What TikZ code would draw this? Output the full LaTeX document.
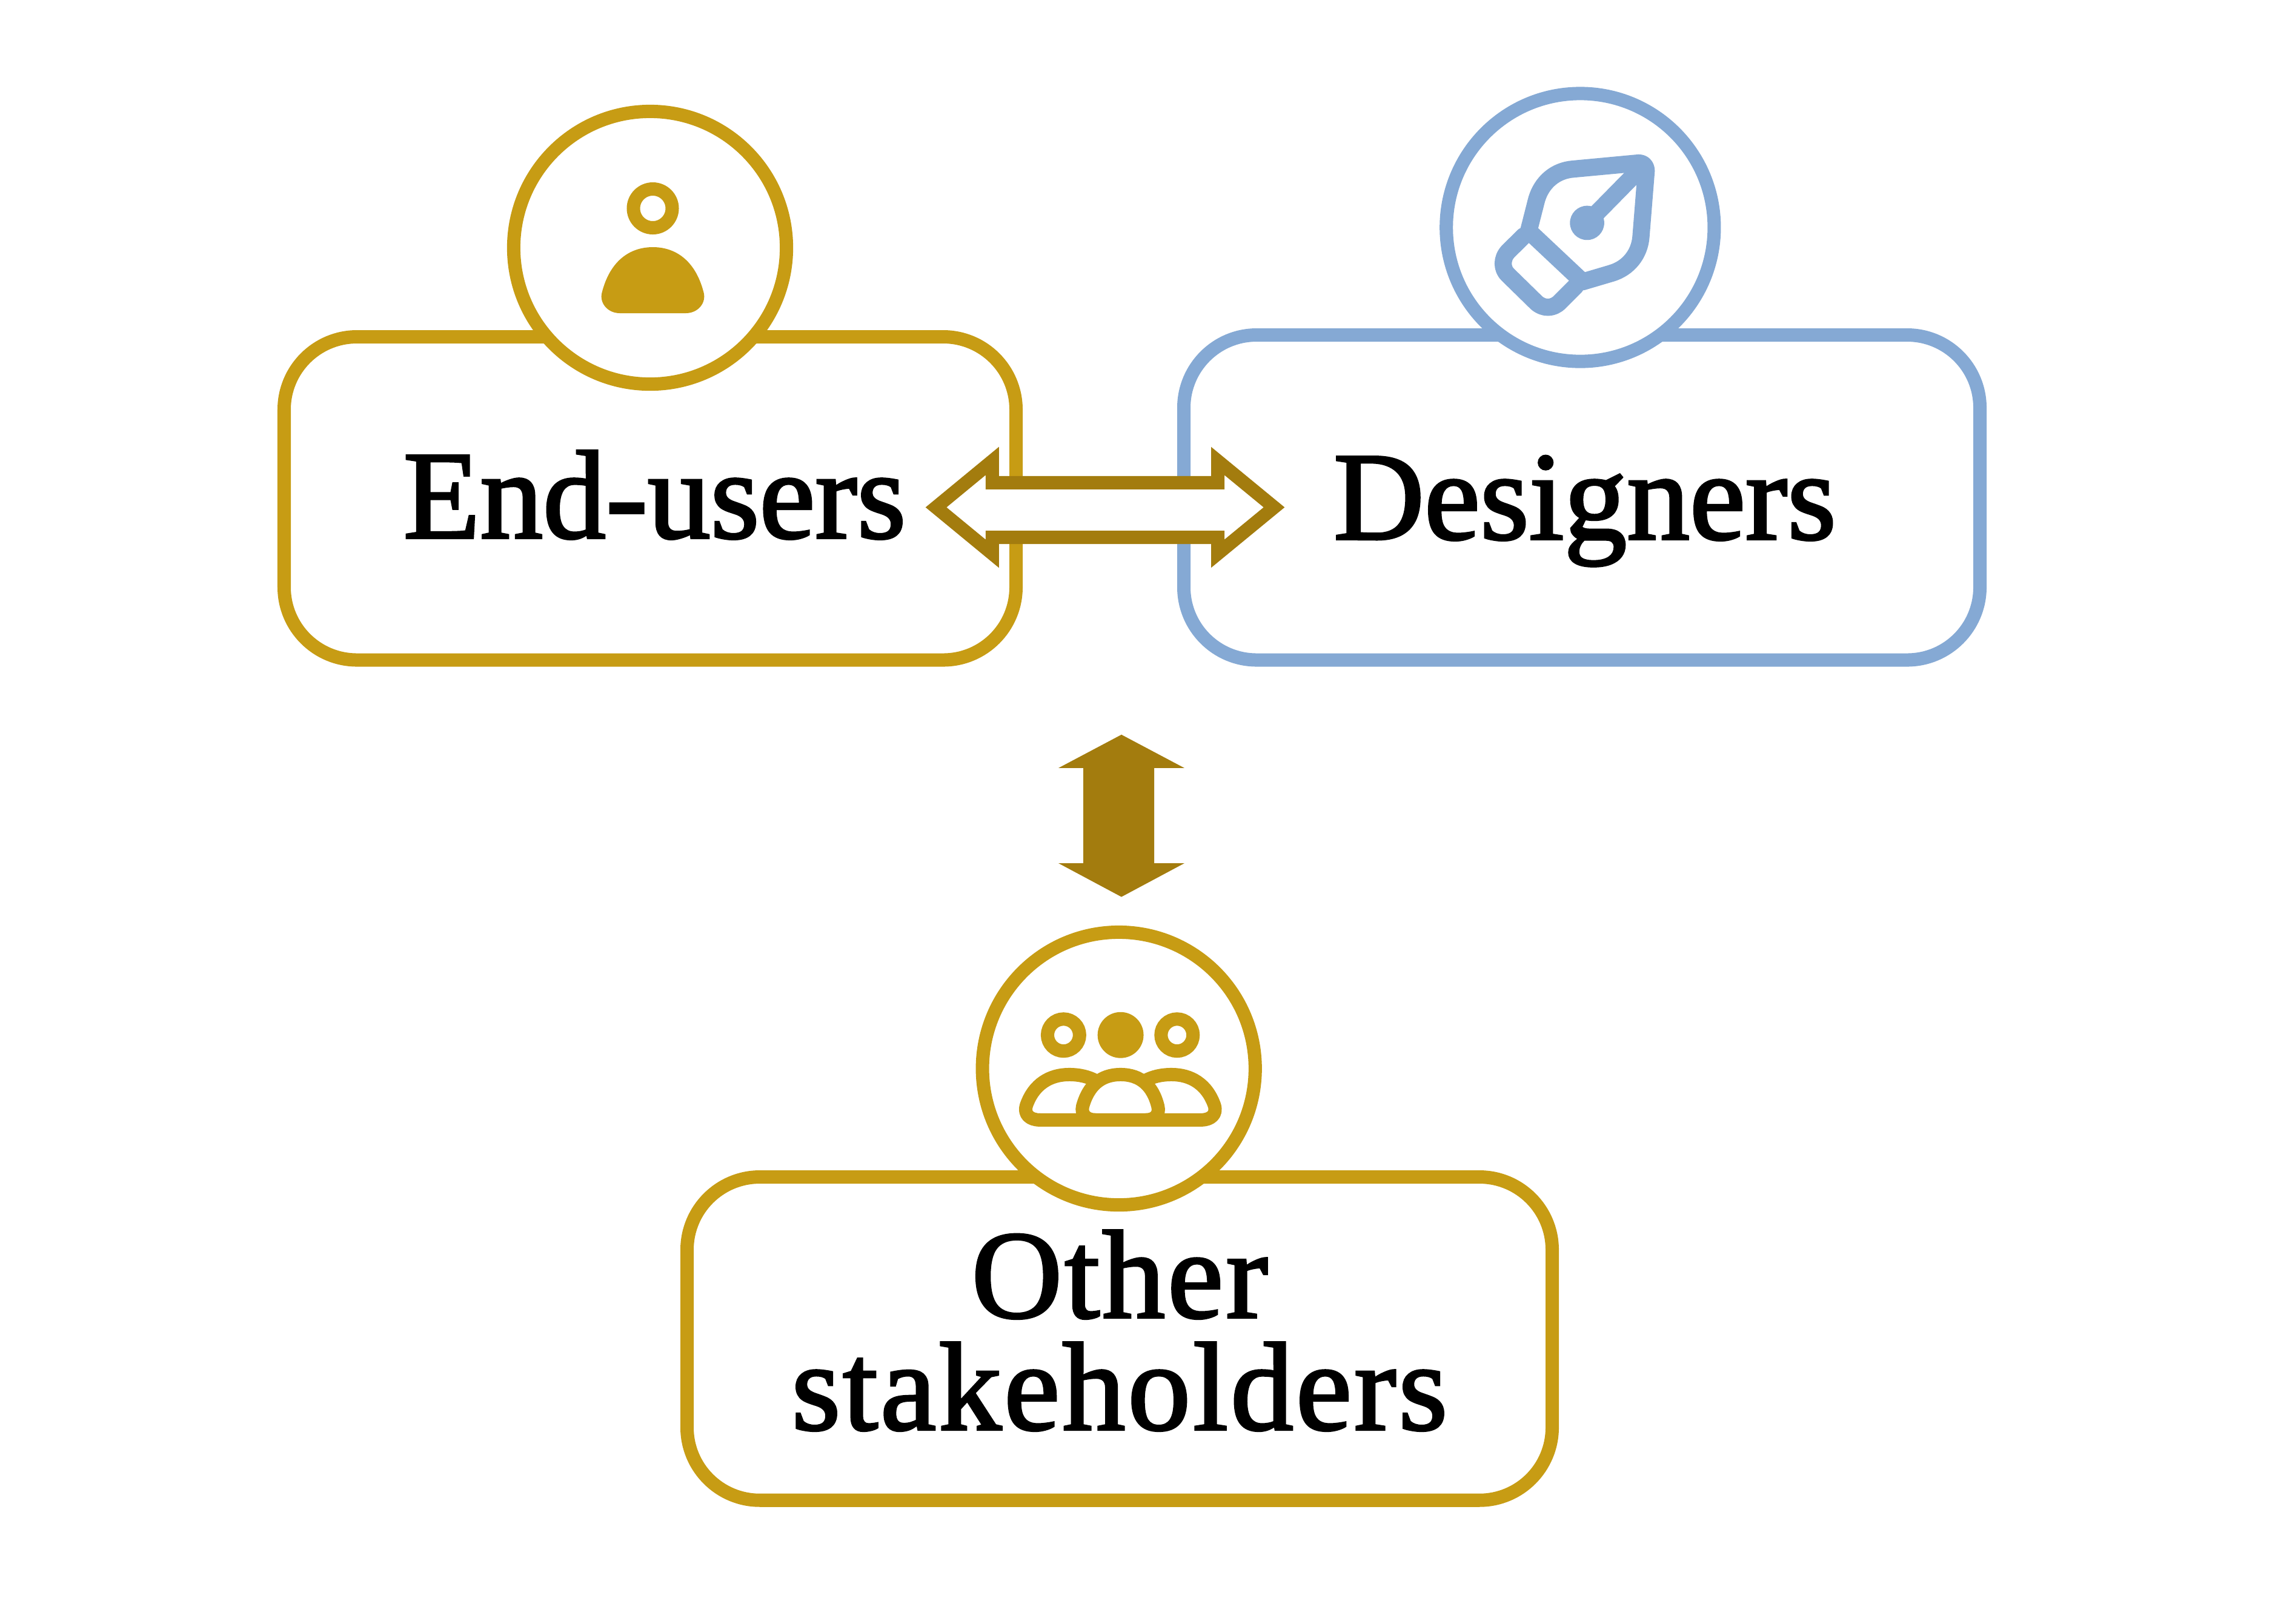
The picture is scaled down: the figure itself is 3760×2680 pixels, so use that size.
\documentclass[tikz,border=0pt]{standalone}
\usepackage{fontspec}
\setmainfont{Liberation Serif}[FakeBold=2]
\definecolor{gold}{HTML}{C79C14}
\definecolor{steel}{HTML}{85A9D4}
\definecolor{bronze}{HTML}{A37C0E}
\tikzset{
  panel/.style={draw,line width=2.2mm,rounded corners=12mm,fill=none},
  badge/.style={draw,line width=2.2mm,fill=white,circle,inner sep=0pt},
  glyph/.style={line width=2.2mm,line join=round,line cap=round},
  penline/.style={draw=steel,line width=2.83mm,line join=round,line cap=round},
  label/.style={font=\fontsize{59}{52.6}\selectfont,align=center,text=black,inner sep=0pt},
  blockarrow/.style={draw=bronze,line width=2.2mm,fill=white,miter limit=10},
}
\begin{document}
\begin{tikzpicture}[x=0.01cm,y=-0.01cm]
\useasboundingbox (0,0) rectangle (3760,2680);
% panels
\draw[panel,draw=gold] (469,556) rectangle (1677,1089.5);
\draw[panel,draw=steel] (1954,553) rectangle (3268,1089.5);
\draw[panel,draw=gold] (1134,1943) rectangle (2562,2476.7);
% badges
\node[badge,draw=gold,minimum size=4.5cm] (userbadge) at (1073,409) {};
\node[badge,draw=steel,minimum size=4.42cm] (designbadge) at (2608.3,375.5) {};
\node[badge,draw=gold,minimum size=4.5cm] (otherbadge) at (1846.7,1764) {};
% labels
\node[label,anchor=base] (endusers) at (1080.5,888) {End-users};
\node[label,anchor=base] (designers) at (2616,890) {Designers};
\node[label,anchor=base] (others) at (1848,2360) {\addfontfeature{LetterSpace=2}Other\\\addfontfeature{LetterSpace=2}stakeholders};
% user icon
\draw[gold,line width=2.2mm] (1077.5,344) circle (32);
\fill[gold] (1023,517) -- (1132,517) .. controls (1152,517) and (1166,500) .. (1161.5,483) .. controls (1148,430) and (1115,408) .. (1077.5,408) .. controls (1040,408) and (1007,430) .. (993.5,483) .. controls (989,500) and (1003,517) .. (1023,517) -- cycle;
% pen icon
\begin{scope}[shift={(2360,120)},x=0.00333333cm,y=-0.00333333cm]
\draw[penline] (1033,448) .. controls (1058,446) and (1075,465) .. (1073,490) -- (1047,815) .. controls (1040,900) and (985,970) .. (900,995) -- (758,1037) -- (490,785) -- (530,628) .. controls (555,545) and (620,485) .. (712,478) -- cycle;
\draw[penline] (466,810) -- (390,885) .. controls (355,920) and (355,975) .. (390,1005) -- (528,1140) .. controls (562,1172) and (612,1172) .. (645,1137) -- (722,1060);
\draw[penline] (1050,470) -- (780,745);
\fill[steel] (780,745) circle (85);
\end{scope}
% people icon
\begin{scope}[shift={(1600,1520)},x=0.00333333cm,y=-0.00333333cm]
\draw[gold,line width=2.2mm] (467,567) circle (79.5);
\fill[gold] (750,567) circle (114);
\draw[gold,line width=2.2mm] (1030,567) circle (79.5);
\draw[gold,glyph] (348,988) -- (1150,988) .. controls (1198,988) and (1230,960) .. (1215,915) .. controls (1178,810) and (1098,763) .. (1003,763) .. controls (948,763) and (908,775) .. (878,790);
\draw[gold,glyph] (348,988) .. controls (300,988) and (268,960) .. (283,915) .. controls (320,810) and (400,763) .. (495,763) .. controls (550,763) and (590,775) .. (620,790);
\draw[gold,glyph] (625,988) .. controls (580,988) and (552,960) .. (562,920) .. controls (590,820) and (650,763) .. (750,763) .. controls (850,763) and (910,820) .. (935,920) .. controls (945,960) and (920,988) .. (875,988);
\end{scope}
% arrows
\draw[blockarrow] (1545,837.5) -- (1637.8,761) -- (1637.8,796.8) -- (2010,796.8) -- (2010,761) -- (2103,837.5) -- (2010,914) -- (2010,887) -- (1637.8,887) -- (1637.8,914) -- cycle;
\fill[bronze] (1851,1212.8) -- (1955,1267.9) -- (1905,1267.9) -- (1905,1425) -- (1955,1425) -- (1851,1480.6) -- (1747,1425) -- (1788,1425) -- (1788,1267.9) -- (1747,1267.9) -- cycle;
\end{tikzpicture}
\end{document}
